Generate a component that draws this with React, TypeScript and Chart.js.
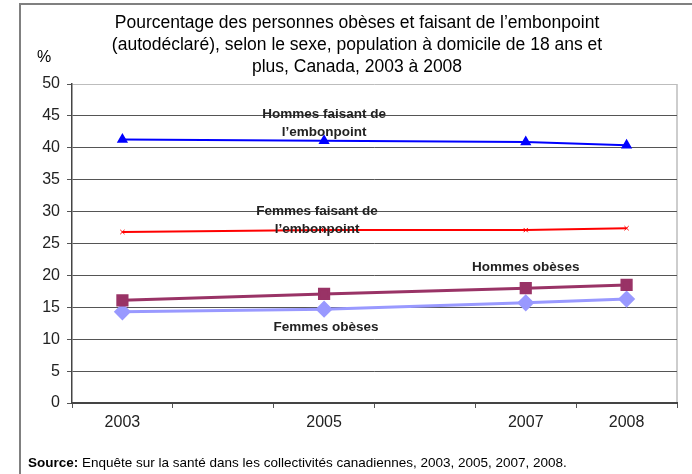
import React, { useEffect, useRef } from "react";
import { Chart, registerables } from "chart.js";

Chart.register(...registerables);

const years = [2003, 2005, 2007, 2008];
const tickLabelYears = [2003, 2005, 2007, 2008];
const slotBounds = [2002.5, 2003.5, 2004.5, 2005.5, 2006.5, 2007.5, 2008.5];

const hommesEmbonpoint = [41.3, 41.1, 40.9, 40.4];
const femmesEmbonpoint = [26.8, 27.1, 27.1, 27.4];
const hommesObeses = [16.1, 17.1, 18.0, 18.5];
const femmesObeses = [14.3, 14.7, 15.7, 16.3];

const titleLines = [
  "Pourcentage des personnes obèses et faisant de l\u2019embonpoint",
  "(autodéclaré), selon le sexe, population à domicile de 18 ans et",
  "plus, Canada, 2003 à 2008",
];

const labelTexts = [
  ["Hommes faisant de", "l\u2019embonpoint"],
  ["Femmes faisant de", "l\u2019embonpoint"],
  ["Hommes obèses"],
  ["Femmes obèses"],
];
const labelX = [2005.0, 2004.93, 2007.0, 2005.02];
const labelY = [43.9, 28.7, 21.3, 11.9];

const sourceBold = "Source:";
const sourceText = " Enquête sur la santé dans les collectivités canadiennes, 2003, 2005, 2007, 2008.";

const FONT = "'Liberation Sans', Arial, sans-serif";

const decorPlugin = {
  id: "decor",
  beforeDraw(chart: any) {
    const ctx = chart.ctx;
    ctx.save();
    ctx.fillStyle = "#ffffff";
    ctx.fillRect(0, 0, chart.width, chart.height);
    ctx.strokeStyle = "#808080";
    ctx.lineWidth = 2;
    ctx.strokeRect(20, 4, chart.width + 20, chart.height + 20);
    // title
    ctx.fillStyle = "#000";
    ctx.font = `17.5px ${FONT}`;
    ctx.textAlign = "center";
    ctx.textBaseline = "middle";
    titleLines.forEach((t, i) => ctx.fillText(t, 357, 23 + i * 22));
    // percent sign
    ctx.font = `16px ${FONT}`;
    ctx.fillText("%", 44, 58);
    // source
    ctx.textAlign = "left";
    ctx.font = `bold 13.5px ${FONT}`;
    ctx.fillText(sourceBold, 28, 463);
    const w = ctx.measureText(sourceBold).width;
    ctx.font = `13.5px ${FONT}`;
    ctx.fillText(sourceText, 28 + w, 463);
    // plot area right border
    const ca = chart.chartArea;
    ctx.strokeStyle = "#bdbdbd";
    ctx.lineWidth = 1.5;
    ctx.beginPath();
    ctx.moveTo(ca.right, ca.top);
    ctx.lineTo(ca.right, ca.bottom);
    ctx.stroke();
    ctx.restore();
  },
  afterDatasetsDraw(chart: any) {
    const ctx = chart.ctx;
    const xs = chart.scales.x;
    const ys = chart.scales.y;
    ctx.save();
    ctx.fillStyle = "#222";
    ctx.font = `bold 13.5px ${FONT}`;
    ctx.textAlign = "center";
    ctx.textBaseline = "middle";
    labelTexts.forEach((lines, i) => {
      const cx = xs.getPixelForValue(labelX[i]);
      const cy = ys.getPixelForValue(labelY[i]);
      const lh = 18;
      const start = cy - ((lines.length - 1) * lh) / 2;
      lines.forEach((l, j) => ctx.fillText(l, cx, start + j * lh));
    });
    ctx.restore();
  },
};

export default function App() {
  const ref = useRef<HTMLCanvasElement>(null);
  useEffect(() => {
    document.body.style.margin = "0";
    const mk = (v: number[]) => v.map((y, i) => ({ x: years[i], y }));
    const chart = new Chart(ref.current!, {
      type: "line",
      data: {
        datasets: [
          {
            label: "Hommes faisant de l'embonpoint",
            data: mk(hommesEmbonpoint),
            borderColor: "#0000ff",
            backgroundColor: "#0000ff",
            borderWidth: 2,
            pointStyle: "triangle",
            pointRadius: 4.5,
          },
          {
            label: "Femmes faisant de l'embonpoint",
            data: mk(femmesEmbonpoint),
            borderColor: "#ff0000",
            backgroundColor: "#ff0000",
            borderWidth: 2,
            pointStyle: "crossRot",
            pointRadius: 3,
            pointBorderWidth: 1,
          },
          {
            label: "Hommes obèses",
            data: mk(hommesObeses),
            borderColor: "#993366",
            backgroundColor: "#993366",
            borderWidth: 3,
            pointStyle: "rect",
            pointRadius: 6.5,
          },
          {
            label: "Femmes obèses",
            data: mk(femmesObeses),
            borderColor: "#9999ff",
            backgroundColor: "#9999ff",
            borderWidth: 3,
            pointStyle: "rectRot",
            pointRadius: 6.5,
          },
        ],
      },
      options: {
        animation: false,
        responsive: false,
        devicePixelRatio: 1,
        layout: { padding: { left: 20, top: 84, right: 15, bottom: 41 } },
        plugins: { legend: { display: false }, tooltip: { enabled: false } },
        elements: { line: { tension: 0 } },
        scales: {
          x: {
            type: "linear",
            min: 2002.5,
            max: 2008.5,
            afterBuildTicks: (s: any) => {
              const all = [...slotBounds, ...tickLabelYears].sort((a, b) => a - b);
              s.ticks = all.map((v) => ({ value: v }));
            },
            afterFit: (s: any) => {
              s.height = 30;
            },
            border: { color: "#444", width: 2 },
            grid: {
              drawOnChartArea: false,
              tickLength: 5,
              tickColor: (c: any) =>
                c.tick && Number.isInteger(c.tick.value) ? "rgba(0,0,0,0)" : "#555",
            },
            ticks: {
              autoSkip: false,
              maxRotation: 0,
              padding: 5,
              color: "#222",
              font: { family: FONT, size: 16 },
              callback: (v: any) => (Number.isInteger(v) ? String(v) : ""),
            },
          },
          y: {
            min: 0,
            max: 50,
            afterFit: (s: any) => {
              s.width = 52;
            },
            border: { color: "#444", width: 1.5 },
            grid: {
              color: (c: any) => (c.tick && c.tick.value === 50 ? "#bdbdbd" : "#555"),
              lineWidth: 1,
              tickLength: 5,
              tickColor: "#555",
            },
            ticks: {
              stepSize: 5,
              padding: 7,
              color: "#222",
              font: { family: FONT, size: 16 },
            },
          },
        },
      },
      plugins: [decorPlugin],
    } as any);
    return () => chart.destroy();
  }, []);
  return <canvas ref={ref} width={692} height={474} style={{ display: "block" }} />;
}
